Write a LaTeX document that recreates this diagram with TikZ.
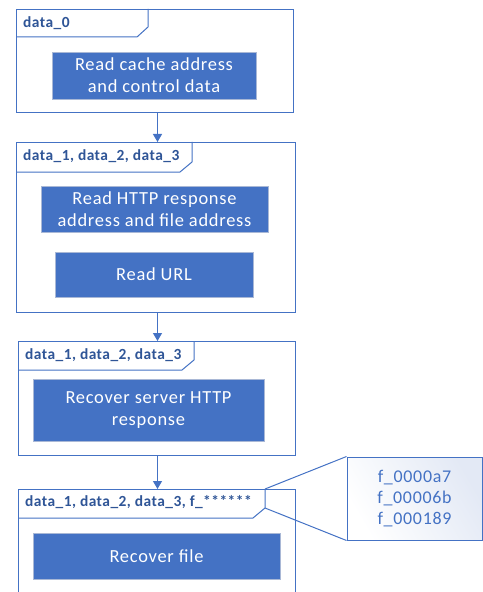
\documentclass[tikz,border=0pt]{standalone}
\usepackage{fontspec}
\setmainfont{Carlito}
\newfontfamily\stepfont{Carlito}[LetterSpace=4]
\newfontfamily\labfont{Carlito}[LetterSpace=3]
\usetikzlibrary{arrows.meta}
\definecolor{mainblue}{HTML}{4472C4}
\definecolor{labelblue}{HTML}{2F5597}
\definecolor{boxedge}{HTML}{A9B8D6}
\definecolor{paleblue}{HTML}{E3E9F5}
\tikzset{
  frame/.style={draw=mainblue, line width=1bp, fill=white, rectangle, inner sep=0pt, anchor=north west},
  tabline/.style={draw=mainblue, line width=1bp},
  tablabel/.style={anchor=west, inner sep=0pt, text=labelblue, font=\labfont\fontsize{15.5}{18}\selectfont\bfseries},
  stepbox/.style={rectangle, fill=mainblue, draw=boxedge, line width=0.8bp, text=white, align=center, inner sep=0pt,
    font=\stepfont\fontsize{18.5}{22}\selectfont},
  arr/.style={draw=mainblue, line width=1.2bp, -{Triangle[width=9bp,length=8bp]}},
  callout/.style={rectangle, draw=mainblue, line width=1bp, left color=white, right color=paleblue, shading angle=120,
    text=mainblue, align=center, inner sep=0pt, font=\stepfont\fontsize{18}{21}\selectfont},
}
\begin{document}
\begin{tikzpicture}[x=1bp, y=-1bp]
\useasboundingbox (0,0) rectangle (483,592);
\clip (0,0) rectangle (483,592);
% frames
\node[frame, minimum width=277bp, minimum height=103bp] (f1) at (16,9) {};
\node[frame, minimum width=279bp, minimum height=170bp] (f2) at (16,142) {};
\node[frame, minimum width=277bp, minimum height=114bp] (f3) at (18,341) {};
\node[frame, minimum width=277bp, minimum height=140bp] (f4) at (18,489) {};
% tabs
\draw[tabline] (16,37) -- (137,37) -- (148,27) -- (148,9);
\draw[tabline] (16,172) -- (180,172) -- (192,162) -- (192,142);
\draw[tabline] (18,370) -- (182,370) -- (194,360) -- (194,341);
\coordinate (t4top) at (265,489);
\coordinate (t4mid) at (265,508);
\draw[tabline] (18,518) -- (253,518) -- (t4mid) -- (t4top);
% tab labels
\node[tablabel] (l1) at (23,23) {data\_0};
\node[tablabel] (l2) at (23,156) {data\_1, data\_2, data\_3};
\node[tablabel] (l3) at (25,355) {data\_1, data\_2, data\_3};
\node[tablabel] (l4) at (25,502) {data\_1, data\_2, data\_3, f\_******};
% inner steps
\node[stepbox, minimum width=204bp, minimum height=47bp] (s1) at (154,75.5) {Read cache address\\and control data};
\node[stepbox, minimum width=227bp, minimum height=46bp] (s2) at (154.5,209) {Read HTTP response\\address and file address};
\node[stepbox, minimum width=198bp, minimum height=45bp] (s3) at (154,274.5) {Read URL};
\node[stepbox, minimum width=231bp, minimum height=62bp] (s4) at (148.5,410) {Recover server HTTP\\response};
\node[stepbox, minimum width=247bp, minimum height=46bp] (s5) at (156.5,556) {Recover file};
% arrows
\draw[arr] ([xshift=2.5bp]f1.south) -- ([xshift=2.5bp]f1.south |- f2.north);
\draw[arr] ([xshift=1.5bp]f2.south) -- ([xshift=1.5bp]f2.south |- f3.north);
\draw[arr] ([xshift=0.5bp]f3.south) -- ([xshift=0.5bp]f3.south |- f4.north);
% callout
\node[callout, minimum width=135bp, minimum height=83bp] (c) at (414.5,498.5) {f\_0000a7\\f\_00006b\\f\_000189};
\draw[tabline] (t4top) -- (c.north west);
\draw[tabline] (t4mid) -- (c.south west);
\end{tikzpicture}
\end{document}
